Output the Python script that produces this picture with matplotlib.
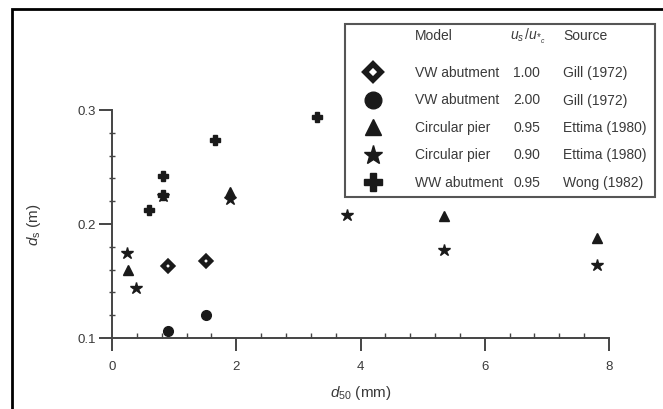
import matplotlib
matplotlib.use("Agg")
from matplotlib import pyplot as plt
from matplotlib.patches import Rectangle
from matplotlib.lines import Line2D

plt.rcParams['font.family'] = ['Liberation Sans', 'DejaVu Sans']
plt.rcParams['mathtext.fontset'] = 'custom'
plt.rcParams['mathtext.it'] = 'Liberation Sans:italic'
plt.rcParams['mathtext.rm'] = 'Liberation Sans'

# data
diamond_x = [0.90, 1.51]
diamond_y = [0.163, 0.1675]
circle_x = [0.90, 1.51]
circle_y = [0.106, 0.120]
triangle_x = [0.26, 1.90, 5.35, 7.80]
triangle_y = [0.160, 0.228, 0.207, 0.188]
star_x = [0.24, 0.38, 0.82, 1.90, 3.79, 5.35, 7.80]
star_y = [0.175, 0.144, 0.225, 0.222, 0.208, 0.177, 0.164]
plus_x = [0.60, 0.82, 0.82, 1.66, 3.30]
plus_y = [0.212, 0.242, 0.2255, 0.274, 0.294]

models = ["VW abutment", "VW abutment", "Circular pier", "Circular pier", "WW abutment"]
ratios = ["1.00", "2.00", "0.95", "0.90", "0.95"]
sources = ["Gill (1972)", "Gill (1972)", "Ettima (1980)", "Ettima (1980)", "Wong (1982)"]

txt = '#3a3a3a'
ink = '#1a1a1a'

fig = plt.figure(figsize=(6.63, 4.10), dpi=100)
ax = fig.add_axes([112/663, 1-339/410, (609-112)/663, (339-111)/410])

ax.plot(diamond_x, diamond_y, 'D', ms=5.5, mfc='white', mec=ink, mew=3.2, ls='none')
ax.plot(circle_x, circle_y, 'o', ms=7, color=ink, ls='none')
ax.plot(triangle_x, triangle_y, '^', ms=7, color=ink, ls='none')
ax.plot(star_x, star_y, '*', ms=9, color=ink, ls='none')
ax.plot(plus_x, plus_y, 'P', ms=7, color=ink, ls='none')

ax.set_xlim(0, 8)
ax.set_ylim(0.1, 0.3)
ax.set_xticks([0, 2, 4, 6, 8])
ax.set_yticks([0.1, 0.2, 0.3])
ax.set_xticks([i*0.4 for i in range(21)], minor=True)
ax.set_yticks([0.1 + i*0.02 for i in range(11)], minor=True)
ax.tick_params(which='major', direction='out', length=9.5, width=1.4, colors='#444444',
               labelcolor=txt, labelsize=9.5)
ax.tick_params(axis='x', which='major', pad=6)
ax.tick_params(axis='y', which='major', pad=2)
ax.tick_params(axis='x', which='minor', direction='in', length=3.5, width=1.0, colors='#444444')
ax.tick_params(axis='y', which='minor', direction='inout', length=4, width=1.0, colors='#444444')
ax.set_xticklabels(['0', '2', '4', '6', '8'])
ax.set_yticklabels(['0.1', '0.2', '0.3'])
for s in ['top', 'right']:
    ax.spines[s].set_visible(False)
for s in ['left', 'bottom']:
    ax.spines[s].set_color('#444444')
    ax.spines[s].set_linewidth(1.4)

ax.set_xlabel(r'$d_{50}$ (mm)', fontsize=11, color=txt, labelpad=8)
ax.set_ylabel(r'$d_{\rm s}$ (m)', fontsize=11, color=txt, labelpad=25)

# outer frame
fig.patches.append(Rectangle((12/663, -0.1), 1.2, 1 - 10/410 + 0.1, transform=fig.transFigure,
                             fill=False, ec='black', lw=2))

# table-style legend
fig.patches.append(Rectangle((345/663, 1-198/410), (655-345)/663, (198-25)/410,
                             transform=fig.transFigure, fill=False, ec='#555555', lw=1.5, zorder=5))
hy = 1 - 36/410
fig.text(415/663, hy, 'Model', fontsize=10, color=txt, va='center')
fig.text(510/663, hy, r'$u_s\,/u_{*_c}$', fontsize=10, color=txt, va='center')
fig.text(563/663, hy, 'Source', fontsize=10, color=txt, va='center')
leg_markers = [('D', 8, 'white', 4.0), ('o', 12, ink, 1), ('^', 11, ink, 1), ('*', 14, ink, 1), ('P', 13, ink, 1)]
for i, (m, r, s) in enumerate(zip(models, ratios, sources)):
    yy = 1 - (73 + i*27.5)/410
    mk, ms, fc, mw = leg_markers[i]
    fig.add_artist(Line2D([373/663], [yy], marker=mk, ms=ms, mfc=fc, mec=ink, mew=mw,
                          ls='none', transform=fig.transFigure))
    fig.text(415/663, yy, m, fontsize=10, color=txt, va='center')
    fig.text(513/663, yy, r, fontsize=10, color=txt, va='center')
    fig.text(563/663, yy, s, fontsize=10, color=txt, va='center')

fig.savefig('out.png', dpi=100)
